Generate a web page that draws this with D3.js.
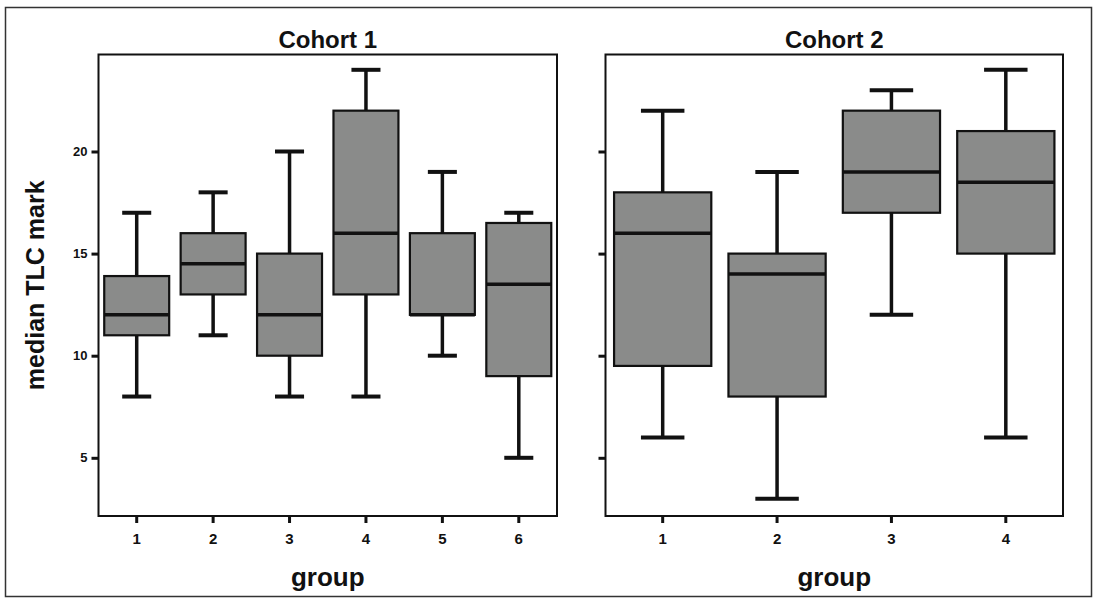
<!DOCTYPE html>
<html>
<head>
<meta charset="utf-8">
<script src="https://cdn.jsdelivr.net/npm/d3@7/dist/d3.min.js"></script>
<style>
  html, body { margin: 0; padding: 0; background: #fff; }
  svg { display: block; }
  text { font-family: "Liberation Sans", Arial, sans-serif; font-weight: bold; fill: #111; }
</style>
</head>
<body>
<svg id="chart" width="1100" height="604"></svg>
<script>
// ---- data ----
const yTicks = [5, 10, 15, 20];

const cohort1Title = "Cohort 1";
const cohort1Groups = ["1", "2", "3", "4", "5", "6"];
const cohort1Min    = [8, 11, 8, 8, 10, 5];
const cohort1Q1     = [11, 13, 10, 13, 12, 9];
const cohort1Median = [12, 14.5, 12, 16, 12, 13.5];
const cohort1Q3     = [13.9, 16, 15, 22, 16, 16.5];
const cohort1Max    = [17, 18, 20, 24, 19, 17];

const cohort2Title = "Cohort 2";
const cohort2Groups = ["1", "2", "3", "4"];
const cohort2Min    = [6, 3, 12, 6];
const cohort2Q1     = [9.5, 8, 17, 15];
const cohort2Median = [16, 14, 19, 18.5];
const cohort2Q3     = [18, 15, 22, 21];
const cohort2Max    = [22, 19, 23, 24];

const xLabel = "group";
const yLabel = "median TLC mark";

// ---- layout ----
const svg = d3.select("#chart");
const plotTop = 54.5, plotBottom = 516;
const y = d3.scaleLinear().domain([2.15, 24.75]).range([plotBottom, plotTop]);

// outer frame
svg.append("rect").attr("x", 5.5).attr("y", 7.5).attr("width", 1086).attr("height", 589)
  .attr("fill", "#fff").attr("stroke", "#333").attr("stroke-width", 1.5);

function panel(opts) {
  const { x0, x1, title, groups, mn, q1, md, q3, mx, showLabels } = opts;
  const x = d3.scaleBand().domain(groups).range([x0, x1]).padding(0);
  const g = svg.append("g");
  const bw = x.bandwidth();
  const boxW = bw * 0.85, capW = bw * 0.38;

  const data = groups.map((k, i) => ({ k, mn: mn[i], q1: q1[i], md: md[i], q3: q3[i], mx: mx[i] }));

  const items = g.selectAll("g.box").data(data).join("g").attr("class", "box");
  const cx = d => x(d.k) + bw / 2;
  items.append("line").attr("x1", cx).attr("x2", cx)
    .attr("y1", d => y(d.mx)).attr("y2", d => y(d.q3))
    .attr("stroke", "#111").attr("stroke-width", 3.5);
  items.append("line").attr("x1", cx).attr("x2", cx)
    .attr("y1", d => y(d.q1)).attr("y2", d => y(d.mn))
    .attr("stroke", "#111").attr("stroke-width", 3.5);
  items.append("line").attr("x1", d => cx(d) - capW / 2).attr("x2", d => cx(d) + capW / 2)
    .attr("y1", d => y(d.mx)).attr("y2", d => y(d.mx))
    .attr("stroke", "#111").attr("stroke-width", 4);
  items.append("line").attr("x1", d => cx(d) - capW / 2).attr("x2", d => cx(d) + capW / 2)
    .attr("y1", d => y(d.mn)).attr("y2", d => y(d.mn))
    .attr("stroke", "#111").attr("stroke-width", 4);
  items.append("rect").attr("x", d => cx(d) - boxW / 2).attr("width", boxW)
    .attr("y", d => y(d.q3)).attr("height", d => y(d.q1) - y(d.q3))
    .attr("fill", "#8a8b8a").attr("stroke", "#111").attr("stroke-width", 2.2);
  items.append("line").attr("x1", d => cx(d) - boxW / 2).attr("x2", d => cx(d) + boxW / 2)
    .attr("y1", d => y(d.md)).attr("y2", d => y(d.md))
    .attr("stroke", "#111").attr("stroke-width", 3.5);

  g.append("rect").attr("x", x0).attr("y", plotTop).attr("width", x1 - x0).attr("height", plotBottom - plotTop)
    .attr("fill", "none").attr("stroke", "#111").attr("stroke-width", 2);

  const xa = g.append("g").attr("transform", `translate(0,${plotBottom})`)
    .call(d3.axisBottom(x).tickSize(7).tickPadding(10));
  xa.attr("font-size", null).attr("font-family", null);
  xa.select(".domain").remove();
  xa.selectAll(".tick line").attr("stroke", "#111").attr("stroke-width", 3);
  xa.selectAll(".tick text").style("font-size", "15px").attr("fill", "#111");

  const ya = g.append("g").attr("transform", `translate(${x0},0)`)
    .call(d3.axisLeft(y).tickValues(yTicks).tickSize(7).tickPadding(4)
      .tickFormat(showLabels ? d3.format("d") : () => ""));
  ya.attr("font-size", null).attr("font-family", null);
  ya.select(".domain").remove();
  ya.selectAll(".tick line").attr("stroke", "#111").attr("stroke-width", 3);
  ya.selectAll(".tick text").style("font-size", "13px").attr("fill", "#111");

  g.append("text").attr("x", (x0 + x1) / 2).attr("y", 48).attr("text-anchor", "middle")
    .style("font-size", "24px").text(title);
  g.append("text").attr("x", (x0 + x1) / 2).attr("y", 586).attr("text-anchor", "middle")
    .style("font-size", "26px").text(xLabel);
}

panel({ x0: 98.5, x1: 557, title: cohort1Title, groups: cohort1Groups,
  mn: cohort1Min, q1: cohort1Q1, md: cohort1Median, q3: cohort1Q3, mx: cohort1Max, showLabels: true });
panel({ x0: 605.5, x1: 1063, title: cohort2Title, groups: cohort2Groups,
  mn: cohort2Min, q1: cohort2Q1, md: cohort2Median, q3: cohort2Q3, mx: cohort2Max, showLabels: false });

svg.append("text").attr("transform", `translate(44,${(plotTop + plotBottom) / 2}) rotate(-90)`)
  .attr("text-anchor", "middle").style("font-size", "25px").text(yLabel);
</script>
</body>
</html>
